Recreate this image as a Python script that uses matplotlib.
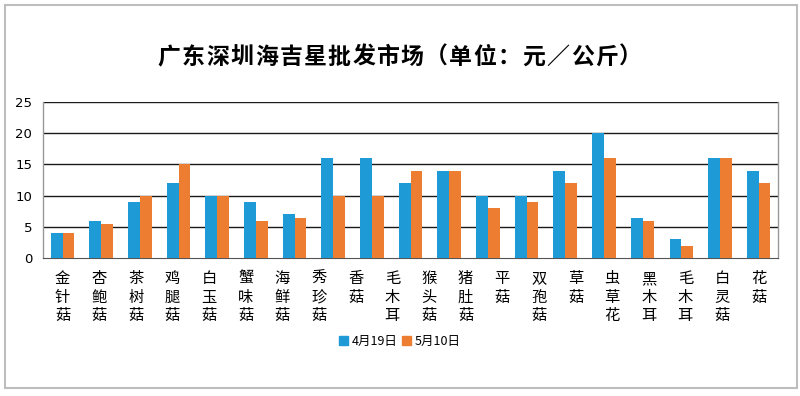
import matplotlib
matplotlib.use('Agg')
import matplotlib.pyplot as plt
from matplotlib.patches import Rectangle, Patch
import numpy as np

plt.rcParams['font.family'] = ['Noto Sans CJK SC', 'DejaVu Sans']

# category labels (20 labels under 19 bar groups, as in the source picture)
labels = ['金针菇', '杏鲍菇', '茶树菇', '鸡腿菇', '白玉菇', '蟹味菇', '海鲜菇',
          '秀珍菇', '香菇', '毛木耳', '猴头菇', '猪肚菇', '平菇', '双孢菇',
          '草菇', '虫草花', '黑木耳', '毛木耳', '白灵菇', '花菇']
apr19 = [4, 6, 9, 12, 10, 9, 7, 16, 16, 12, 14, 10, 10, 14, 20, 6.4, 3, 16, 14]
may10 = [4, 5.5, 10, 15, 10, 6, 6.4, 10, 10, 14, 14, 8.1, 9, 12, 16, 6, 2, 16, 12]
series_names = ['4月19日', '5月10日']
colors = ['#1e9bd7', '#ed7d31']
yticks = [0, 5, 10, 15, 20, 25]
title = '广东深圳海吉星批发市场（单位：元／公斤）'

fig = plt.figure(figsize=(8, 3.96), dpi=100)
fig.patches.append(Rectangle((0.006, 0.02), 0.99, 0.968, transform=fig.transFigure,
                             fill=False, edgecolor='#bdbdbd', lw=1.5))

ax = fig.add_axes([0.054, 0.348, 0.9185, 0.395])
n = len(apr19)
x = np.arange(n)
w = 0.305
ax.bar(x - w/2, apr19, w, color=colors[0], zorder=3)
ax.bar(x + w/2, may10, w, color=colors[1], zorder=3)

ax.set_xlim(-0.5, n - 0.5)
ax.set_ylim(0, 25)
ax.set_yticks(yticks)
ax.set_yticklabels([str(t) for t in yticks], fontsize=9.5, family='DejaVu Sans')
for t in yticks[1:]:
    ax.axhline(t, color='#1a1a1a', lw=1.0, zorder=1)
ax.tick_params(axis='y', length=0, pad=8)
ax.tick_params(axis='x', length=0)
ax.set_xticks([])
for s in ['left', 'right']:
    ax.spines[s].set_color('#999999')
    ax.spines[s].set_linewidth(1.0)
ax.spines['top'].set_visible(False)
ax.spines['bottom'].set_color('#555555')

# labels spread evenly over the same span as the bar groups
pos = np.arange(len(labels)) * (n - 1) / (len(labels) - 1)
for p, lab in zip(pos, labels):
    ax.text(p, -1.9, '\n'.join(lab), ha='center', va='top', fontsize=11,
            linespacing=1.12, transform=ax.transData)

# title, letter-spaced like the original
step = 24.3 / 800
x0 = 0.5 - step * (len(title) - 1) / 2
for i, ch in enumerate(title):
    fig.text(x0 + i * step, 0.855, ch, ha='center', va='center',
             fontsize=16.5, fontweight='bold')

handles = [Patch(color=c) for c in colors]
fig.legend(handles, series_names, loc='center', bbox_to_anchor=(0.5, 0.138),
           ncol=2, frameon=False, fontsize=9, handlelength=0.75, handleheight=0.75,
           handletextpad=0.3, columnspacing=0.3)

fig.savefig('out.png', dpi=100)
